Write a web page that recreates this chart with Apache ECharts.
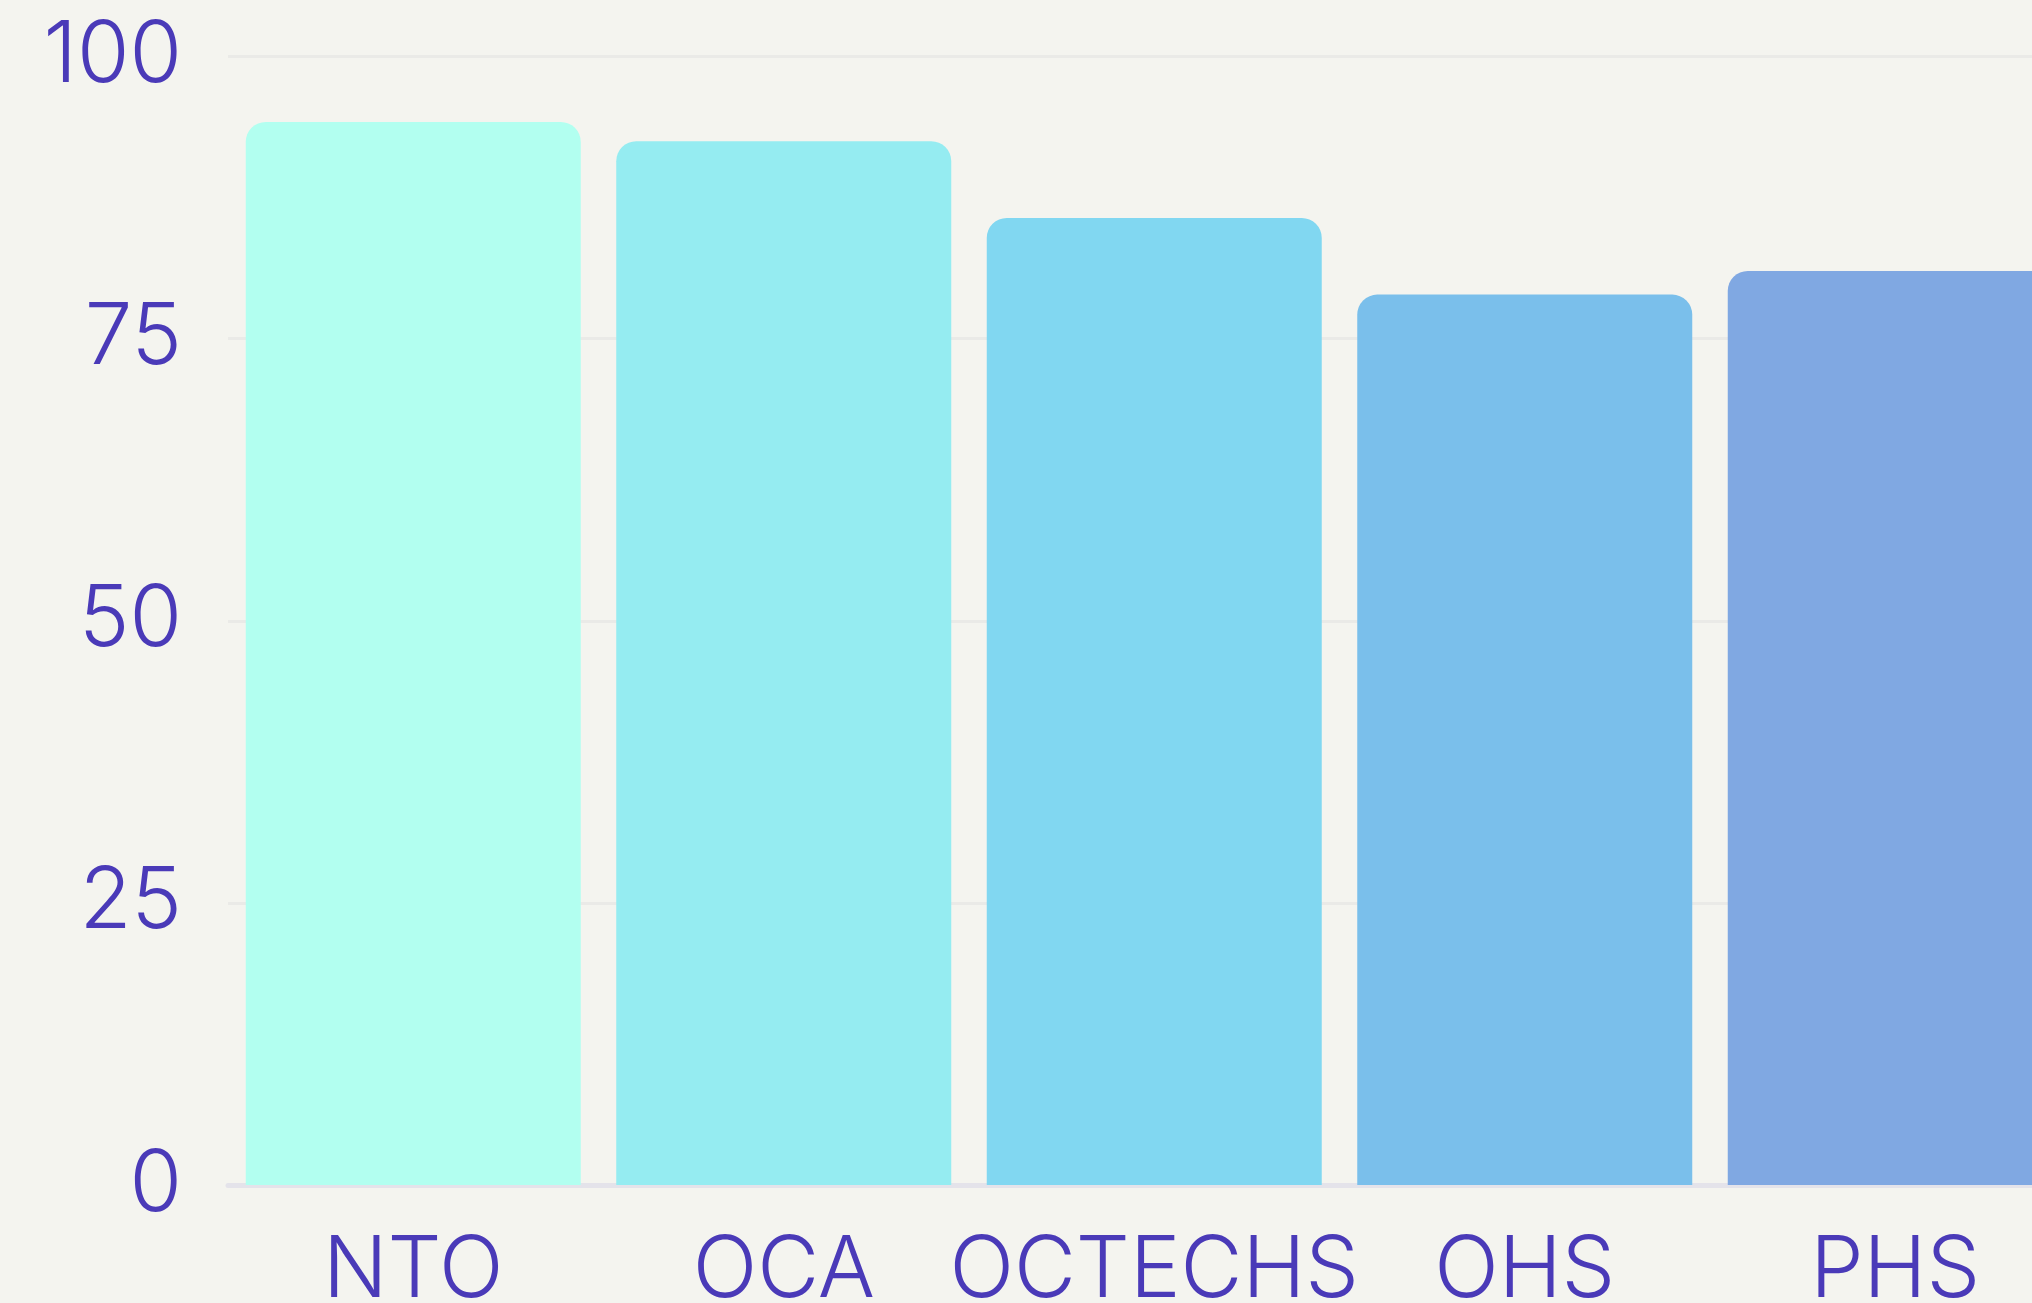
<!DOCTYPE html>
<html>
<head>
<meta charset="utf-8">
<title>Scores</title>
<script src="https://cdn.jsdelivr.net/npm/echarts@6/dist/echarts.min.js"></script>
<style>
  html, body { margin: 0; padding: 0; background: #f4f4ef; }
  #chart { width: 2032px; height: 1303px; }
</style>
</head>
<body>
<div id="chart"></div>
<script>
// data
const categories = ["NTO", "OCA", "OCTECHS", "OHS", "PHS"];
const scores = [94.2, 92.5, 85.7, 78.9, 81.0];
const yTicks = [0, 25, 50, 75, 100];

const palette = ["#b2fff0", "#95ecf1", "#81d7f1", "#7abfeb", "#80a8e2"];
const textColor = "#4a3ab8";
const fontFamily = "Inter, 'DejaVu Sans', sans-serif";

const chart = echarts.init(document.getElementById("chart"));

chart.setOption({
  backgroundColor: "#f4f4ef",
  color: palette,
  animation: false,
  grid: {
    left: 228,
    top: 56.5,
    width: 1852.5, // chart runs off the right edge in the original
    height: 1128.5,
    containLabel: false,
    outerBoundsMode: "none"
  },
  xAxis: {
    type: "category",
    data: categories,
    offset: 3,
    axisTick: { show: false },
    axisLine: { lineStyle: { color: "#e4e3ea", width: 5 } },
    axisLabel: {
      interval: 0,
      hideOverlap: false,
      color: textColor,
      fontFamily: fontFamily,
      fontWeight: 300,
      fontSize: 85,
      margin: 41
    }
  },
  yAxis: {
    type: "value",
    min: yTicks[0],
    max: yTicks[yTicks.length - 1],
    interval: 25,
    axisLine: { show: false },
    axisTick: { show: false },
    splitLine: { lineStyle: { color: "#eaeae7", width: 3 } },
    axisLabel: {
      color: textColor,
      fontFamily: fontFamily,
      fontWeight: 300,
      fontSize: 85,
      margin: 46,
      padding: [0, 0, 24, 0]
    }
  },
  series: [
    {
      type: "bar",
      data: scores,
      colorBy: "data",
      barWidth: 335,
      itemStyle: { borderRadius: [20, 20, 0, 0] }
    }
  ]
});
</script>
</body>
</html>
